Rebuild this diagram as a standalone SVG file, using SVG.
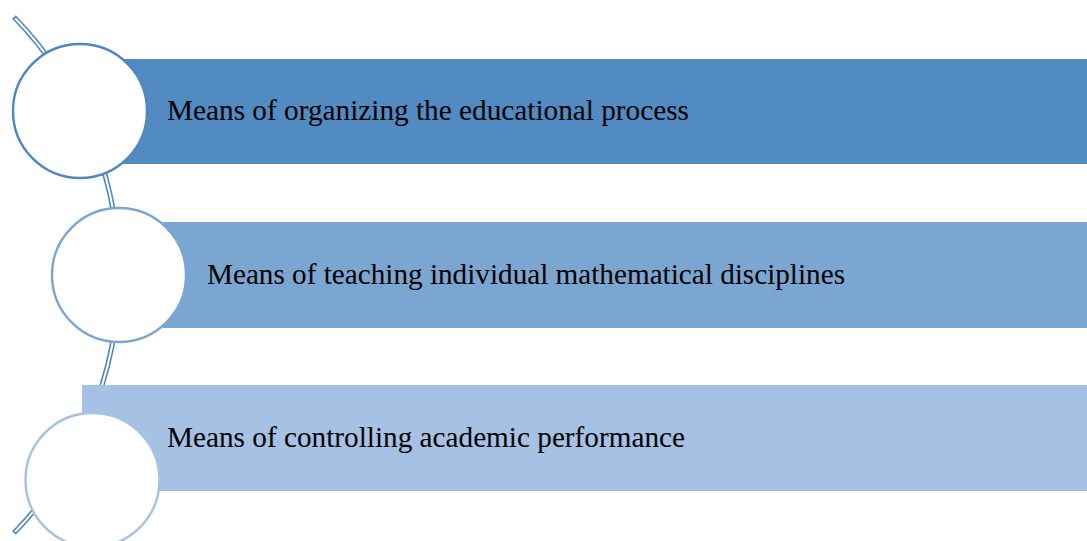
<svg xmlns="http://www.w3.org/2000/svg" width="1087" height="541" viewBox="0 0 1087 541">
  <style>
    .arc-outer { fill: none; stroke: #4f87c4; stroke-width: 5.2; }
    .arc-inner { fill: none; stroke: #ffffff; stroke-width: 2; }
    .circ { fill: #ffffff; stroke-width: 2.4; }
    .label { font-family: "Liberation Serif", "Times New Roman", serif; font-size: 29.6px; fill: #000000; }
  </style>
  <rect width="1087" height="541" fill="#ffffff"/>
  <g id="connectors">
    <path class="arc-outer" d="M 14 17 A 370 370 0 0 1 14 533"/>
    <path class="arc-inner" d="M 15.2 18.2 A 370 370 0 0 1 15.2 531.8"/>
  </g>
  <g id="node1">
    <rect x="123" y="59" width="964" height="105" fill="#528bc1"/>
    <circle class="circ" cx="80" cy="111" r="67" stroke="#4f86bf"/>
    <text class="label" x="167" y="120" textLength="522" lengthAdjust="spacingAndGlyphs">Means of organizing the educational process</text>
  </g>
  <g id="node2">
    <rect x="163" y="222" width="924" height="106" fill="#7ba6d2"/>
    <circle class="circ" cx="119" cy="275" r="67" stroke="#7ba6d2"/>
    <text class="label" x="207" y="284" textLength="638" lengthAdjust="spacingAndGlyphs">Means of teaching individual mathematical disciplines</text>
  </g>
  <g id="node3">
    <rect x="82" y="385" width="1005" height="106" fill="#a5c1e3"/>
    <circle class="circ" cx="92.5" cy="480" r="67" stroke="#a5c1e3"/>
    <text class="label" x="167" y="447" textLength="518" lengthAdjust="spacingAndGlyphs">Means of controlling academic performance</text>
  </g>
</svg>
